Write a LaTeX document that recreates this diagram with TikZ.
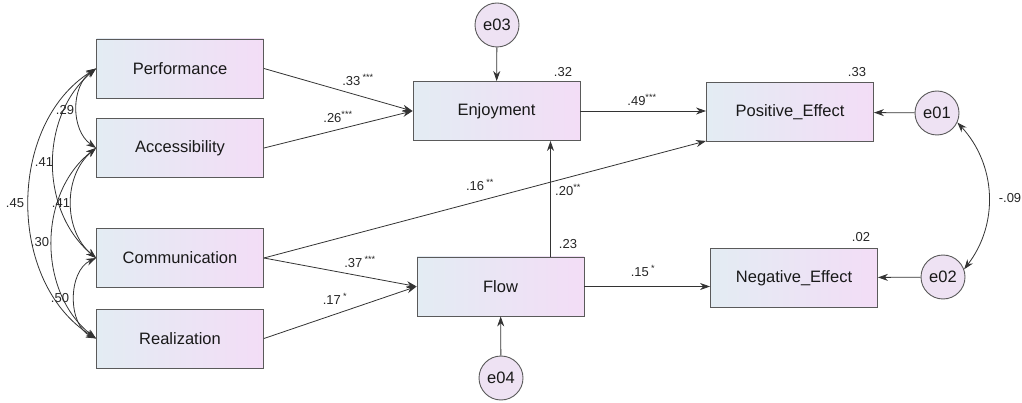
\documentclass[tikz,border=0pt]{standalone}
\usepackage{fontspec}
\setmainfont{Liberation Sans}
\usetikzlibrary{arrows.meta}
\definecolor{boxleft}{HTML}{E3ECF3}
\definecolor{boxright}{HTML}{F3DDF6}
\definecolor{errfill}{HTML}{EEE2F3}
\definecolor{edge}{HTML}{5A5A5A}

\begin{document}
\begin{tikzpicture}[x=1pt, y=-1pt,
    varbox/.style={rectangle, draw=edge, line width=0.9pt, left color=boxleft, right color=boxright,
        minimum width=167pt, minimum height=59pt, inner sep=0pt, font=\fontsize{16.5}{19}\selectfont, text=black!90},
    errnode/.style={circle, draw=edge, line width=0.9pt, fill=errfill, minimum size=44pt, inner sep=0pt,
        font=\fontsize{16.5}{19}\selectfont, text=black!90},
    coef/.style={inner sep=0pt, font=\fontsize{13}{15}\selectfont, text=black!85},
    arr/.style={draw=black!80, line width=0.8pt, -{Stealth[length=10pt,width=7pt]}},
    cov/.style={draw=black!80, line width=0.8pt, {Stealth[length=10pt,width=7pt]}-{Stealth[length=10pt,width=7pt]}}]
        
        \useasboundingbox (0,0) rectangle (1022,403);
        
        % observed variables
        \node[varbox] (perf) at (180,68.5) {Performance};
        \node[varbox] (acc) at (180,148) {Accessibility};
        \node[varbox] (comm) at (180,258) {Communication};
        \node[varbox] (real) at (180,338.5) {Realization};
        \node[varbox] (enj) at (496.5,111) {Enjoyment};
        \node[varbox] (flow) at (500.5,286.5) {Flow};
        \node[varbox] (pos) at (790,112) {Positive\_Effect};
        \node[varbox] (neg) at (794,278) {Negative\_Effect};
        
        % error terms
        \node[errnode] (e03) at (497,25) {e03};
        \node[errnode] (e04) at (501,378) {e04};
        \node[errnode] (e01) at (937,113) {e01};
        \node[errnode] (e02) at (943,277) {e02};
        
        % paths
        \draw[arr] (perf.east) -- (enj.west);
        \draw[arr] (acc.east) -- (enj.west);
        \draw[arr] (comm.east) -- ([yshift=1pt]pos.south west);
        \draw[arr] (comm.east) -- (flow.west);
        \draw[arr] (real.east) -- (flow.west);
        \draw[arr] (enj.east) -- (enj.east -| pos.west);
        \draw[arr] (flow.east) -- (flow.east -| neg.west);
        \draw[arr] ([xshift=50pt]flow.north) -- ([xshift=50pt]flow.north |- enj.south);
        \draw[arr] (e03) -- (enj);
        \draw[arr] (e04) -- (flow);
        \draw[arr] (e01) -- (pos);
        \draw[arr] (e02) -- (neg);
        
        % covariances
        \draw[cov] (perf.west) to[bend right=55] (acc.west);
        \draw[cov] (perf.west) to[bend right=50] (comm.west);
        \draw[cov] (perf.west) to[bend right=58] (real.west);
        \draw[cov] (acc.west) to[bend right=50] (comm.west);
        \draw[cov] (acc.west) to[bend right=52] (real.west);
        \draw[cov] (comm.west) to[bend right=65] (real.west);
        \draw[cov] (e01.-25) to[bend left=40] (e02.20);
        
        % coefficients
        \node[coef] (c29) at (65,110) {.29};
        \node[coef] (c41a) at (44,162) {.41};
        \node[coef] (c45) at (15,203) {.45};
        \node[coef] (c41b) at (61,203) {.41};
        \node[coef] (c30) at (40,242) {.30};
        \node[coef] (c50) at (60,298) {.50};
        \node[coef] (c33a) at (358,80) {.33\,\textsuperscript{***}};
        \node[coef] (c26) at (338,117) {.26\textsuperscript{***}};
        \node[coef] (c49) at (642,100) {.49\textsuperscript{***}};
        \node[coef] (c16) at (480,185) {.16\,\textsuperscript{**}};
        \node[coef] (c20) at (568,190) {.20\textsuperscript{**}};
        \node[coef] (c37) at (360,262) {.37\,\textsuperscript{***}};
        \node[coef] (c17) at (335,299) {.17\,\textsuperscript{*}};
        \node[coef] (c15) at (643,271) {.15\,\textsuperscript{*}};
        \node[coef] (r32) at (563,72) {.32};
        \node[coef] (r23) at (568,244) {.23};
        \node[coef] (r33) at (857,72) {.33};
        \node[coef] (r02) at (861,237) {.02};
        \node[coef] (c09) at (1010,198) {-.09};
        
    \end{tikzpicture}
\end{document}
